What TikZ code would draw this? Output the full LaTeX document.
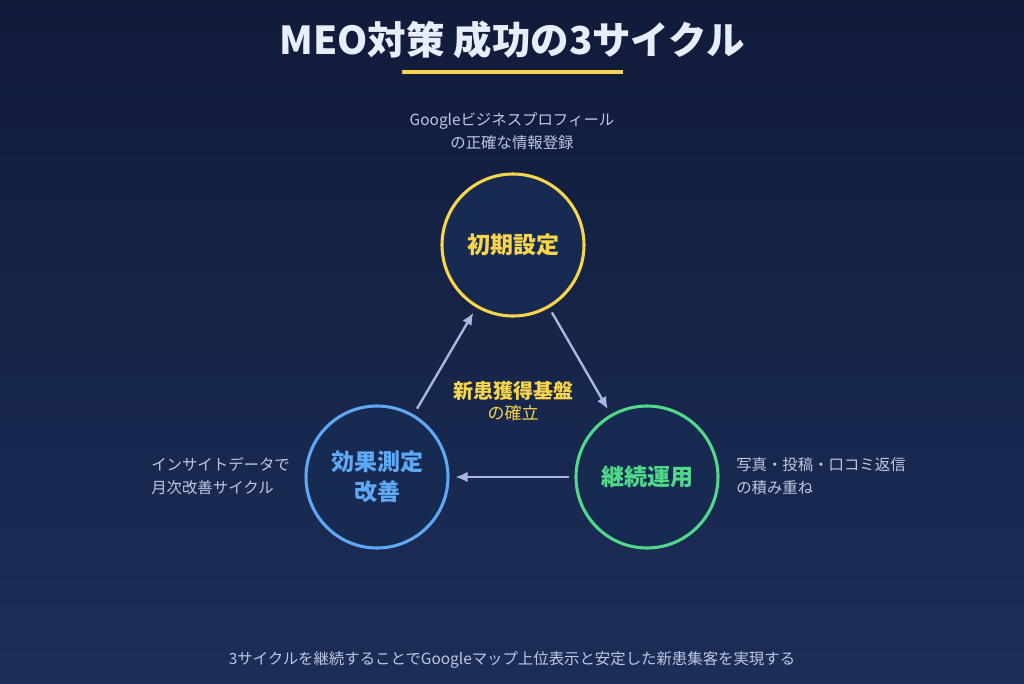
\documentclass[tikz,border=0pt]{standalone}
\usepackage{fontspec}
\setmainfont{Noto Sans CJK JP}
\usetikzlibrary{arrows.meta}
\definecolor{bgtop}{HTML}{111B3A}
\definecolor{bgbot}{HTML}{1C2E58}
\definecolor{cfill}{HTML}{172A52}
\definecolor{cyel}{HTML}{F8D54A}
\definecolor{cblue}{HTML}{5FA8F5}
\definecolor{cgreen}{HTML}{52D88A}
\definecolor{arrc}{HTML}{A9B6E0}
\definecolor{lbl}{HTML}{BFC8E2}
\definecolor{ttl}{HTML}{E8EDFB}
\newcommand{\fpx}[1]{\fontsize{\dimexpr #1pt*3/4\relax}{\dimexpr #1pt*9/8\relax}\selectfont}
\tikzset{
  cyc/.style={circle, minimum size=106.5pt, inner sep=0pt, line width=2.3pt, fill=cfill, font=\fpx{23}\bfseries, align=center},
  arr/.style={draw=arrc, line width=1.8pt, -{Latex[length=9pt,width=8pt]}},
  side/.style={text=lbl, font=\fpx{15.4}, align=left, inner sep=0pt},
}
\begin{document}
\begin{tikzpicture}[x=0.75pt,y=-0.75pt]
\shade[top color=bgtop, bottom color=bgbot] (0,0) rectangle (1024,683);
\useasboundingbox (0,0) rectangle (1024,683);
\node[text=ttl, font=\fpx{38.5}\bfseries, inner sep=0pt] (title) at (512,40) {MEO対策 成功の3サイクル};
\draw[cyel, line width=2.4pt] (402,72) coordinate (ula) -- (623,72) coordinate (ulb);
\node[cyc, draw=cyel, text=cyel] (top) at (513,245) {初期設定};
\node[cyc, draw=cblue, text=cblue] (left) at (377,477) {効果測定\\[-3pt]改善};
\node[cyc, draw=cgreen, text=cgreen] (right) at (647,477) {継続運用};
\draw[arr, shorten <=5pt, shorten >=4.5pt] (left) -- (top);
\draw[arr, shorten <=4pt, shorten >=4.5pt] (top) -- (right);
\draw[arr, shorten <=4pt, shorten >=4.5pt] (right) -- (left);
\node[text=cyel, align=center, inner sep=0pt] (center) at (513,401) {{\fpx{20}\bfseries 新患獲得基盤}\\[3pt]{\fpx{17}の確立}};
\node[side, align=center] (toplbl) at (512,131) {Googleビジネスプロフィール\\の正確な情報登録};
\node[side, anchor=west] (leftlbl) at (151,476) {インサイトデータで\\月次改善サイクル};
\node[side, anchor=west] (rightlbl) at (736,476) {写真・投稿・口コミ返信\\の積み重ね};
\node[text=lbl, font=\fpx{15.4}, inner sep=0pt] (foot) at (512,660) {3サイクルを継続することでGoogleマップ上位表示と安定した新患集客を実現する};
\end{tikzpicture}
\end{document}
